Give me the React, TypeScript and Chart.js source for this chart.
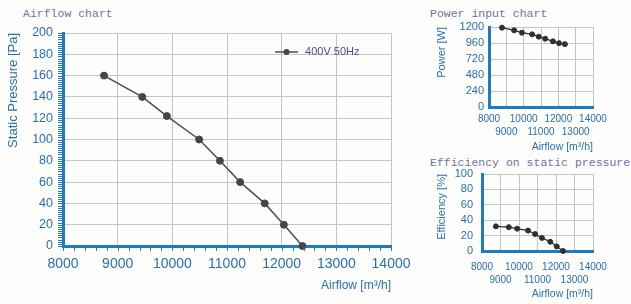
import React, { useEffect, useRef } from "react";
import { Chart, registerables } from "chart.js";

Chart.register(...registerables);

// ---- data ----
const airflow = [8750, 9450, 9900, 10490, 10870, 11240, 11690, 12040, 12380];
const staticPressure = [160, 140, 122, 100, 80, 60, 40, 20, 0];
const powerInput = [1190, 1150, 1115, 1090, 1055, 1025, 985, 958, 943];
const efficiency = [32, 31, 29, 26.5, 22, 17, 12, 6, 0];
const seriesLabel = "400V 50Hz";

const airflowTicks = [8000, 9000, 10000, 11000, 12000, 13000, 14000];
const pressureTicks = [0, 20, 40, 60, 80, 100, 120, 140, 160, 180, 200];
const powerTicks = [0, 240, 480, 720, 960, 1200];
const efficiencyTicks = [0, 20, 40, 60, 80, 100];

const titles = {
  main: "Airflow chart",
  power: "Power input chart",
  eff: "Efficiency on static pressure",
};

// ---- styles ----
const BLUE = "#2b6fb0";
const AXIS = "#1f7bbf";
const GRID = "#c4c4c4";
const SANS = 'Arial, "Liberation Sans", sans-serif';
const TITLE_COLOR = "#7470a8";

type Area = { left: number; top: number; right: number; bottom: number };

type Params = {
  w: number;
  h: number;
  area: Area;
  ys: number[];
  yTicks: number[];
  yTitle: string;
  yTitleSize: number;
  yTitlePad: number;
  yLabelSize: number;
  yLabelPad: number;
  xLabelSize: number;
  xLabelPad: number;
  xLineHeight: number;
  twoRows: boolean;
  xTitleSize: number;
  xTitlePad: number;
  lineColor: string;
  lineWidth: number;
  pointColor: string;
  pointRadius: number;
  gridColor: string;
  plugins?: any[];
};

function makeConfig(p: Params): any {
  return {
    type: "line",
    data: {
      datasets: [
        {
          label: seriesLabel,
          data: airflow.map((x, i) => ({ x, y: p.ys[i] })),
          borderColor: p.lineColor,
          borderWidth: p.lineWidth,
          pointBackgroundColor: p.pointColor,
          pointBorderColor: p.pointColor,
          pointRadius: p.pointRadius,
          pointBorderWidth: 1,
          tension: 0,
          fill: false,
          clip: false,
        },
      ],
    },
    options: {
      responsive: false,
      maintainAspectRatio: false,
      animation: false,
      devicePixelRatio: 1,
      layout: {
        padding: { left: 0, top: p.area.top, right: p.w - p.area.right, bottom: 0 },
      },
      plugins: {
        legend: { display: false },
        tooltip: { enabled: false },
        title: { display: false },
      },
      scales: {
        x: {
          type: "linear",
          position: "bottom",
          min: airflowTicks[0],
          max: airflowTicks[airflowTicks.length - 1],
          afterFit: (s: any) => {
            s.height = p.h - p.area.bottom;
          },
          afterBuildTicks: (s: any) => {
            s.ticks = airflowTicks.map((v) => ({ value: v }));
          },
          grid: { color: p.gridColor, lineWidth: 1, drawTicks: false },
          border: { color: AXIS, width: 3 },
          ticks: {
            autoSkip: false,
            maxRotation: 0,
            minRotation: 0,
            padding: p.xLabelPad,
            color: BLUE,
            font: { family: SANS, size: p.xLabelSize, lineHeight: p.xLineHeight },
            callback: (v: any, i: number) => {
              const t = String(v);
              if (!p.twoRows) return t;
              return i % 2 === 0 ? [t] : ["", t];
            },
          },
          title: {
            display: true,
            text: "Airflow [m³/h]",
            align: "end",
            color: BLUE,
            font: { family: SANS, size: p.xTitleSize, lineHeight: 1.2 },
            padding: { top: 0, bottom: p.xTitlePad },
          },
        },
        y: {
          type: "linear",
          position: "left",
          min: p.yTicks[0],
          max: p.yTicks[p.yTicks.length - 1],
          afterFit: (s: any) => {
            s.width = p.area.left;
          },
          afterBuildTicks: (s: any) => {
            s.ticks = p.yTicks.map((v) => ({ value: v }));
          },
          grid: { color: p.gridColor, lineWidth: 1, drawTicks: false },
          border: { color: AXIS, width: 3 },
          ticks: {
            autoSkip: false,
            padding: p.yLabelPad,
            color: BLUE,
            font: { family: SANS, size: p.yLabelSize, lineHeight: 1.2 },
            callback: (v: any) => String(v),
          },
          title: {
            display: true,
            text: p.yTitle,
            align: "end",
            color: BLUE,
            font: { family: SANS, size: p.yTitleSize, lineHeight: 1.2 },
            padding: { top: p.yTitlePad, bottom: 0 },
          },
        },
      },
    },
    plugins: p.plugins || [],
  };
}

// decorative ruler ticks on the main chart's axes
const rulerPlugin = {
  id: "ruler",
  afterDraw(chart: any) {
    const { ctx, chartArea, scales } = chart;
    const ys = scales.y;
    const xs = scales.x;
    ctx.save();
    ctx.strokeStyle = AXIS;
    ctx.lineWidth = 1;
    ctx.beginPath();
    for (let v = ys.min; v <= ys.max; v += 2) {
      const py = Math.round(ys.getPixelForValue(v)) + 0.5;
      ctx.moveTo(chartArea.left - 5, py);
      ctx.lineTo(chartArea.left - 1, py);
    }
    for (let v = xs.min; v <= xs.max; v += 200) {
      const px = Math.round(xs.getPixelForValue(v)) + 0.5;
      ctx.moveTo(px, chartArea.bottom + 1);
      ctx.lineTo(px, chartArea.bottom + 5);
    }
    ctx.stroke();
    ctx.restore();
  },
};

// legend drawn inside the plot, top-right
const inlineLegendPlugin = {
  id: "inlineLegend",
  afterDatasetsDraw(chart: any) {
    const { ctx, chartArea } = chart;
    const ds = chart.data.datasets[0];
    const y = chartArea.top + 19;
    const x0 = chartArea.right - 116;
    ctx.save();
    ctx.strokeStyle = ds.borderColor;
    ctx.lineWidth = 1.5;
    ctx.beginPath();
    ctx.moveTo(x0, y);
    ctx.lineTo(x0 + 23, y);
    ctx.stroke();
    ctx.fillStyle = ds.pointBackgroundColor;
    ctx.beginPath();
    ctx.arc(x0 + 11.5, y, 3, 0, Math.PI * 2);
    ctx.fill();
    ctx.fillStyle = "#4b4a9c";
    ctx.font = `11px ${SANS}`;
    ctx.textBaseline = "middle";
    ctx.textAlign = "left";
    ctx.fillText(ds.label, x0 + 30, y);
    ctx.restore();
  },
};

function ChartCanvas({ config, left, top, w, h }: { config: any; left: number; top: number; w: number; h: number }) {
  const ref = useRef<HTMLCanvasElement | null>(null);
  useEffect(() => {
    if (!ref.current) return;
    const chart = new Chart(ref.current, config);
    return () => chart.destroy();
  }, []);
  return (
    <canvas
      ref={ref}
      width={w}
      height={h}
      style={{ position: "absolute", left, top, width: w, height: h }}
    />
  );
}

const titleStyle: React.CSSProperties = {
  position: "absolute",
  fontFamily: '"Liberation Mono", "DejaVu Sans Mono", monospace',
  fontSize: 11.5,
  lineHeight: "12px",
  color: TITLE_COLOR,
  whiteSpace: "nowrap",
};

export default function App() {
  const mainCfg = makeConfig({
    w: 420,
    h: 304,
    area: { left: 63, top: 33, right: 393, bottom: 246 },
    ys: staticPressure,
    yTicks: pressureTicks,
    yTitle: "Static Pressure [Pa]",
    yTitleSize: 13,
    yTitlePad: 6,
    yLabelSize: 12.5,
    yLabelPad: 10,
    xLabelSize: 14,
    xLabelPad: 9.5,
    xLineHeight: 1.2,
    twoRows: false,
    xTitleSize: 12,
    xTitlePad: 11,
    lineColor: "#4d4d55",
    lineWidth: 1.5,
    pointColor: "#47434d",
    pointRadius: 3.5,
    gridColor: GRID,
    plugins: [rulerPlugin, inlineLegendPlugin],
  });

  const powerCfg = makeConfig({
    w: 211,
    h: 154,
    area: { left: 69, top: 27, right: 173, bottom: 107 },
    ys: powerInput,
    yTicks: powerTicks,
    yTitle: "Power [W]",
    yTitleSize: 11,
    yTitlePad: 15,
    yLabelSize: 11,
    yLabelPad: 5,
    xLabelSize: 10,
    xLabelPad: 5.5,
    xLineHeight: 1.3,
    twoRows: true,
    xTitleSize: 10.5,
    xTitlePad: 1,
    lineColor: "#2e2e33",
    lineWidth: 1.2,
    pointColor: "#2e2e33",
    pointRadius: 2.5,
    gridColor: GRID,
  });

  const effCfg = makeConfig({
    w: 211,
    h: 154,
    area: { left: 62, top: 24, right: 173, bottom: 101 },
    ys: efficiency,
    yTicks: efficiencyTicks,
    yTitle: "Efficiency [%]",
    yTitleSize: 11,
    yTitlePad: 15,
    yLabelSize: 11,
    yLabelPad: 9,
    xLabelSize: 10,
    xLabelPad: 9.5,
    xLineHeight: 1.3,
    twoRows: true,
    xTitleSize: 10.5,
    xTitlePad: 3.5,
    lineColor: "#2e2e33",
    lineWidth: 1.2,
    pointColor: "#2e2e33",
    pointRadius: 2.5,
    gridColor: GRID,
  });

  return (
    <div
      style={{
        position: "absolute",
        left: 0,
        top: 0,
        width: 631,
        height: 304,
        background: "#fdfdfb",
        overflow: "hidden",
      }}
    >
      <div style={{ ...titleStyle, left: 23, top: 8 }}>{titles.main}</div>
      <div style={{ ...titleStyle, left: 430, top: 8 }}>{titles.power}</div>
      <div style={{ ...titleStyle, left: 430, top: 157 }}>{titles.eff}</div>
      <ChartCanvas config={mainCfg} left={0} top={0} w={420} h={304} />
      <ChartCanvas config={powerCfg} left={420} top={0} w={211} h={154} />
      <ChartCanvas config={effCfg} left={420} top={150} w={211} h={154} />
    </div>
  );
}
